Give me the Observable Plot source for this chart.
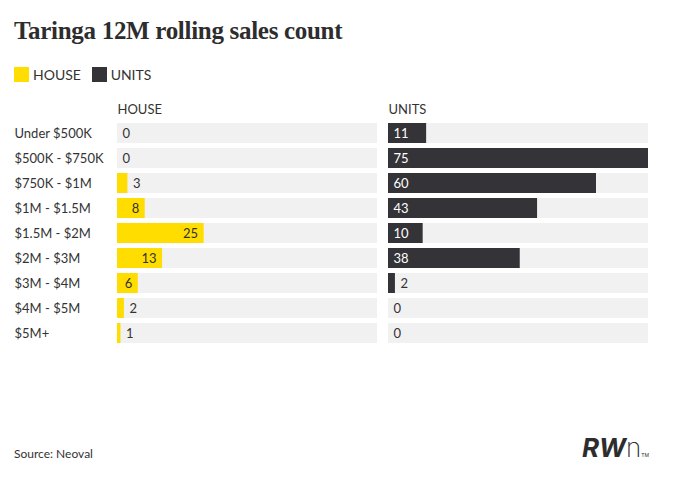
<!DOCTYPE html>
<html><head><meta charset="utf-8">
<script src="https://cdn.jsdelivr.net/npm/d3@7"></script>
<script src="https://cdn.jsdelivr.net/npm/@observablehq/plot@0.6"></script>
<style>
body{margin:0;width:678px;height:494px;background:#fff;font-family:Lato,sans-serif;position:relative;overflow:hidden}
#title{position:absolute;left:14px;top:17px;font-family:"Liberation Serif",serif;font-weight:bold;font-size:25px;color:#2d2d2d;letter-spacing:-0.3px}
#legend{position:absolute;left:14px;top:66px;font-size:14px;color:#333;display:flex;align-items:center}
#legend span.sw{display:inline-block;width:15px;height:15px;margin-right:4px}
#chart{position:absolute;left:0;top:96px}
#src{position:absolute;left:14px;top:446px;font-size:12px;color:#333}
#logo{position:absolute;left:582px;top:432px;font-size:26px;color:#2d2d2d;font-family:Inter,sans-serif}
</style></head><body>
<div id="title">Taringa 12M rolling sales count</div>
<div id="legend"><span class="sw" style="background:#ffdd00"></span>HOUSE&nbsp;&nbsp;&nbsp;<span class="sw" style="background:#333338"></span>UNITS</div>
<div id="chart"></div>
<div id="src">Source: Neoval</div>
<div id="logo"><b><i>RW</i></b><span style="font-weight:200">n</span><span style="font-size:5px">TM</span></div>
<script>
const categories=["Under $500K","$500K - $750K","$750K - $1M","$1M - $1.5M","$1.5M - $2M","$2M - $3M","$3M - $4M","$4M - $5M","$5M+"];
const house=[0,0,3,8,25,13,6,2,1];
const units=[11,75,60,43,10,38,2,0,0];
const types=["HOUSE","UNITS"];
const colors={HOUSE:"#ffdd00",UNITS:"#333338"};
const data=[];
categories.forEach((c,i)=>{data.push({cat:c,type:"HOUSE",v:house[i]});data.push({cat:c,type:"UNITS",v:units[i]});});
const hIn=data.filter(d=>d.type==="HOUSE"&&d.v>=6), hOut=data.filter(d=>d.type==="HOUSE"&&d.v<6);
const uIn=data.filter(d=>d.type==="UNITS"&&d.v>2), uOut=data.filter(d=>d.type==="UNITS"&&d.v<=2);
const chart=Plot.plot({
  width:678,height:268,marginLeft:117,marginRight:29,marginTop:19,marginBottom:12,
  style:{fontFamily:"Lato,sans-serif",fontSize:"13px",color:"#333"},
  fx:{domain:types,axis:null,paddingInner:0.04,paddingOuter:0},
  x:{domain:[0,75],axis:null},
  y:{domain:categories,label:null,padding:0.2,axis:null},
  marks:[
    Plot.text(types,{fx:d=>d,frameAnchor:"top-left",text:d=>d,dy:-11,fontSize:13,fill:"#333"}),
    Plot.axisY({tickSize:0,textAnchor:"start",dx:-94,fontSize:13,fill:"#333",label:null}),
    Plot.barX(data,{fx:"type",y:"cat",x:75,fill:"#f1f1f1"}),
    Plot.barX(data,{fx:"type",y:"cat",x:"v",fill:d=>colors[d.type]}),
    Plot.text(hIn,{fx:"type",y:"cat",x:"v",text:d=>String(d.v),textAnchor:"end",dx:-6,fill:"#333",fontSize:13}),
    Plot.text(hOut,{fx:"type",y:"cat",x:"v",text:d=>String(d.v),textAnchor:"start",dx:5,fill:"#333",fontSize:13}),
    Plot.text(uIn,{fx:"type",y:"cat",x:0,text:d=>String(d.v),textAnchor:"start",dx:5,fill:"#fff",fontSize:13}),
    Plot.text(uOut,{fx:"type",y:"cat",x:"v",text:d=>String(d.v),textAnchor:"start",dx:5,fill:"#333",fontSize:13})
  ]
});
document.getElementById("chart").appendChild(chart);
</script></body></html>
